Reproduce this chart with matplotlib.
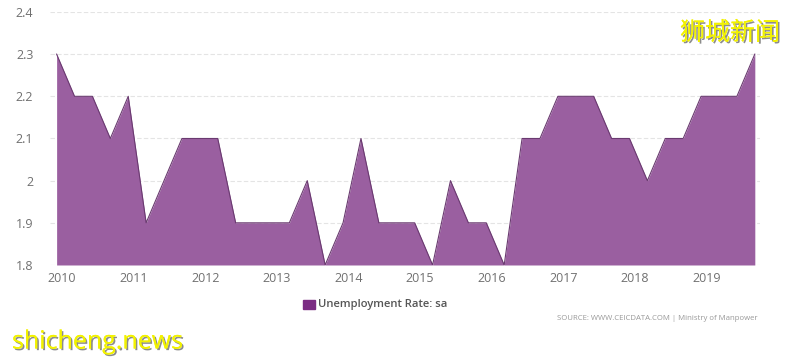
import matplotlib.pyplot as plt
import matplotlib.patheffects as pe

# quarterly unemployment rate (sa), 2010 Q1 .. 2019 Q4
rate = [2.3, 2.2, 2.2, 2.1,
        2.2, 1.9, 2.0, 2.1,
        2.1, 2.1, 1.9, 1.9,
        1.9, 1.9, 2.0, 1.8,
        1.9, 2.1, 1.9, 1.9,
        1.9, 1.8, 2.0, 1.9,
        1.9, 1.8, 2.1, 2.1,
        2.2, 2.2, 2.2, 2.1,
        2.1, 2.0, 2.1, 2.1,
        2.2, 2.2, 2.2, 2.3]
years = [str(y) for y in range(2010, 2020)]
y_ticks = [1.8, 1.9, 2.0, 2.1, 2.2, 2.3, 2.4]
y_labels = ['1.8', '1.9', '2', '2.1', '2.2', '2.3', '2.4']

plt.rcParams['font.family'] = ['Open Sans', 'DejaVu Sans']

fig = plt.figure(figsize=(8, 3.58), dpi=100)
ax = fig.add_axes([0.0625, 0.2598, 0.8875, 0.7067])

x = list(range(len(rate)))
ax.fill_between(x, 1.8, rate, color='#9a5fa0', linewidth=0)
ax.plot(x, rate, color='#6a3a70', linewidth=0.8)

ax.set_xlim(-0.37, 39.29)
ax.set_ylim(1.8, 2.4)
ax.set_yticks(y_ticks)
ax.set_yticklabels(y_labels)
ax.set_xticks([4 * i + 0.3 for i in range(len(years))])
ax.set_xticklabels(years)
ax.tick_params(length=0, labelsize=9, colors='#707070')
ax.tick_params(axis='y', pad=12)
ax.tick_params(axis='x', pad=5)
ax.grid(axis='y', color='#e4e4e4', linewidth=0.8, linestyle=(0, (4, 2)))
ax.set_axisbelow(True)
for s in ax.spines.values():
    s.set_visible(False)

# legend
fig.patches.append(plt.Rectangle((303 / 800, 1 - 309 / 358), 12 / 800, 9 / 358,
                                 transform=fig.transFigure, color='#7b2c83'))
fig.text(318 / 800, 1 - 304 / 358, 'Unemployment Rate: sa', fontsize=8.1,
         color='#555555', va='center', fontweight='semibold')
fig.text(557 / 800, 1 - 319 / 358, 'SOURCE: WWW.CEICDATA.COM | Ministry of Manpower',
         fontsize=5.6, color='#999999', va='center')

# watermarks
shadow = [pe.withSimplePatchShadow(offset=(1.2, -1.2), shadow_rgbFace='#707070', alpha=0.8), pe.Normal()]
fig.text(680 / 800, 1 - 33 / 358, '狮城新闻', fontsize=18, color='#f2f200', va='center',
         family=['Noto Sans CJK SC', 'DejaVu Sans'], path_effects=shadow)
fig.text(12 / 800, 1 - 342 / 358, 'shicheng.news', fontsize=18, color='#f2f200', va='center',
         family=['Open Sans', 'DejaVu Sans'], path_effects=shadow)

fig.savefig('out.png', dpi=100)
